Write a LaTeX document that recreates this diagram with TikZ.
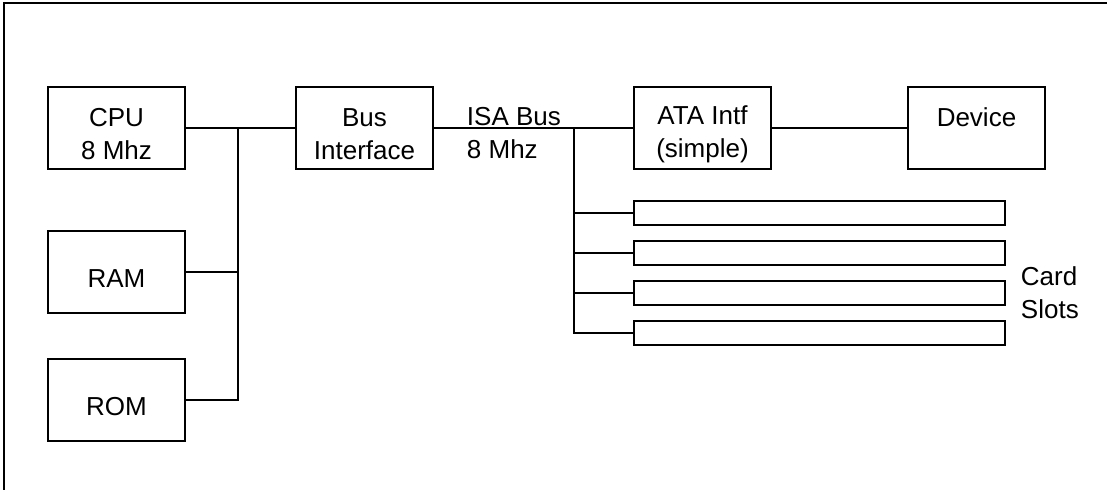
\documentclass[tikz,border=0pt]{standalone}
\usepackage{fontspec}
\setmainfont{Liberation Sans}
\usepackage{tikz}

\newcommand{\boxtop}{\rule{0pt}{0.62cm}}
\tikzset{
	blk/.style={draw,minimum width=2.74cm,minimum height=1.64cm,align=center,inner sep=0pt},
	slotbox/.style={draw,minimum width=7.42cm,minimum height=0.48cm,inner sep=0pt},
	lbl/.style={align=left,inner sep=0pt,anchor=west}
}

\begin{document}
\begin{tikzpicture}[x=0.02cm,y=-0.02cm,line width=1.1pt,font=\fontsize{14.8}{18.8}\selectfont]
		\useasboundingbox (0,0) rectangle (1107,490);
		\draw (4,490) to (4,3) to (1107,3);
		% left side: cpu and memories
		\node[blk] (cpu) at (116.5,128) {\boxtop CPU\\8 Mhz};
		\node[blk] (ram) at (116.5,272) {\boxtop RAM};
		\node[blk] (rom) at (116.5,400) {\boxtop ROM};
		\node[blk] (bif) at (364.5,128) {\boxtop Bus\\Interface};
		% right side: isa bus
		\node[blk] (ata) at (702.5,128) {\boxtop ATA Intf\\(simple)};
		\node[blk] (dev) at (976.5,128) {\boxtop Device\\~};
		\foreach \k in {1,...,4}
		{
		\node[slotbox] (slot\k) at (819.5,173+40*\k) {};
		}
		\node[lbl] (isa) at (466,133) {ISA Bus\\8 Mhz};
		\node[lbl] (cards) at (1020,293) {Card\\Slots};
		\coordinate (j1) at (238,128);
		\coordinate (j2) at (574,128);
		\draw (cpu) to (bif);
		\draw (j1) |- (rom);
		\draw (ram) to (ram -| j1);
		\draw (bif) to (ata);
		\draw (ata) to (dev);
		\draw (j2) |- (slot4);
		\foreach \k in {1,2,3}
		{
		\draw (slot\k) to (slot\k -| j2);
		}
	\end{tikzpicture}
\end{document}
